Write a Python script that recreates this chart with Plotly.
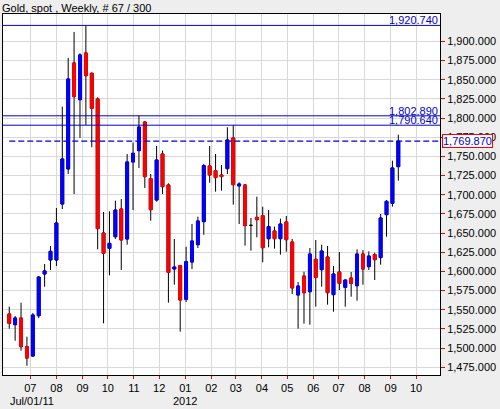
import plotly.graph_objects as go

# ---------------- data ----------------
week_dates = [
    "2011-06-06", "2011-06-13", "2011-06-20", "2011-06-27", "2011-07-04", "2011-07-11",
    "2011-07-18", "2011-07-25", "2011-08-01", "2011-08-08", "2011-08-15", "2011-08-22",
    "2011-08-29", "2011-09-05", "2011-09-12", "2011-09-19", "2011-09-26", "2011-10-03",
    "2011-10-10", "2011-10-17", "2011-10-24", "2011-10-31", "2011-11-07", "2011-11-14",
    "2011-11-21", "2011-11-28", "2011-12-05", "2011-12-12", "2011-12-19", "2011-12-26",
    "2012-01-02", "2012-01-09", "2012-01-16", "2012-01-23", "2012-01-30", "2012-02-06",
    "2012-02-13", "2012-02-20", "2012-02-27", "2012-03-05", "2012-03-12", "2012-03-19",
    "2012-03-26", "2012-04-02", "2012-04-09", "2012-04-16", "2012-04-23", "2012-04-30",
    "2012-05-07", "2012-05-14", "2012-05-21", "2012-05-28", "2012-06-04", "2012-06-11",
    "2012-06-18", "2012-06-25", "2012-07-02", "2012-07-09", "2012-07-16", "2012-07-23",
    "2012-07-30", "2012-08-06", "2012-08-13", "2012-08-20", "2012-08-27", "2012-09-03",
    "2012-09-10",
]
opens = [
    1544.5, 1530.6, 1539.3, 1501.9, 1489.7, 1542.3, 1596.7, 1614.9, 1614.9, 1687.9,
    1733.6, 1871.8, 1823.9, 1884.8, 1858.3, 1824.8, 1650.1, 1630.1, 1645.3, 1681.4,
    1642.3, 1742.7, 1757.5, 1794.8, 1721.0, 1693.1, 1753.1, 1712.7, 1603.2, 1607.5,
    1563.6, 1612.3, 1634.9, 1664.9, 1737.5, 1731.4, 1725.7, 1734.0, 1774.0, 1711.5,
    1712.7, 1660.1, 1670.5, 1672.7, 1642.7, 1652.7, 1642.7, 1664.5, 1638.4, 1569.3,
    1594.0, 1573.6, 1615.8, 1602.3, 1618.8, 1569.7, 1599.3, 1579.3, 1591.4, 1581.4,
    1622.7, 1606.2, 1621.9, 1618.0, 1674.0, 1688.8, 1736.6,
]
highs = [
    1554.1, 1541.9, 1559.3, 1515.0, 1545.8, 1594.0, 1609.7, 1633.2, 1682.7, 1814.8,
    1878.3, 1912.2, 1884.4, 1920.74, 1859.5, 1827.0, 1677.5, 1678.4, 1692.3, 1694.4,
    1753.1, 1767.9, 1802.89, 1796.1, 1727.0, 1763.5, 1757.5, 1714.9, 1642.3, 1608.5,
    1632.3, 1661.8, 1671.4, 1740.1, 1763.5, 1753.1, 1738.8, 1787.9, 1790.64, 1716.2,
    1714.0, 1669.7, 1697.5, 1684.4, 1680.1, 1658.4, 1668.8, 1672.3, 1642.3, 1586.2,
    1599.7, 1630.6, 1641.0, 1634.9, 1633.2, 1607.1, 1625.3, 1589.5, 1599.3, 1628.8,
    1627.9, 1626.2, 1624.5, 1674.9, 1693.1, 1744.4, 1778.3,
]
lows = [
    1525.4, 1509.7, 1496.7, 1477.1, 1489.0, 1539.3, 1580.1, 1601.9, 1607.1, 1681.4,
    1727.0, 1701.0, 1774.0, 1790.9, 1761.8, 1628.8, 1532.3, 1594.9, 1642.3, 1601.9,
    1634.9, 1680.1, 1734.9, 1708.8, 1666.2, 1691.0, 1701.0, 1559.3, 1582.7, 1521.5,
    1560.1, 1603.2, 1630.6, 1647.9, 1715.7, 1704.0, 1705.3, 1727.0, 1687.1, 1661.8,
    1633.6, 1627.1, 1644.5, 1611.9, 1631.4, 1629.7, 1621.9, 1625.8, 1570.6, 1525.4,
    1531.9, 1530.6, 1554.1, 1580.1, 1556.7, 1547.5, 1575.8, 1554.1, 1567.1, 1561.9,
    1582.7, 1601.9, 1588.8, 1608.8, 1645.3, 1684.4, 1718.3,
]
closes = [
    1532.3, 1539.3, 1501.9, 1487.1, 1543.2, 1592.7, 1600.6, 1626.2, 1663.1, 1746.6,
    1850.9, 1827.9, 1882.2, 1855.2, 1812.6, 1655.8, 1623.6, 1636.6, 1680.1, 1641.0,
    1742.7, 1754.0, 1788.3, 1723.6, 1680.5, 1745.3, 1710.5, 1598.8, 1605.8, 1562.8,
    1612.7, 1639.7, 1665.8, 1737.9, 1725.7, 1722.3, 1723.6, 1771.4, 1713.1, 1714.0,
    1659.7, 1660.1, 1667.5, 1631.0, 1658.4, 1642.7, 1661.8, 1641.4, 1578.4, 1581.0,
    1572.3, 1622.7, 1592.3, 1626.6, 1572.3, 1596.7, 1584.5, 1588.8, 1584.5, 1622.7,
    1603.2, 1620.1, 1615.3, 1669.7, 1691.4, 1734.9, 1769.87,
]

level_lines = [1920.74, 1802.89, 1790.64]
last_price = 1769.87

price_ticks = [1475, 1500, 1525, 1550, 1575, 1600, 1625, 1650, 1675, 1700,
               1725, 1750, 1775, 1800, 1825, 1850, 1875, 1900]
month_ticks = ["2011-07-01", "2011-08-01", "2011-09-01", "2011-10-01", "2011-11-01",
               "2011-12-01", "2012-01-01", "2012-02-01", "2012-03-01", "2012-04-01",
               "2012-05-01", "2012-06-01", "2012-07-01", "2012-08-01", "2012-09-01",
               "2012-10-01"]
month_labels = ["07", "08", "09", "10", "11", "12", "01", "02", "03", "04",
                "05", "06", "07", "08", "09", "10"]

title_text = "Gold, spot , Weekly, # 67 / 300"
x_range = ["2011-05-29 14:00", "2012-10-29 12:00"]
y_range = [1465.0, 1935.6]

FONT = "Liberation Sans, Arial, sans-serif"
BLUE = "#0000CC"

# body-only values (doji left to the black trace)
body_hi = [max(o, c) if o != c else None for o, c in zip(opens, closes)]
body_lo = [min(o, c) if o != c else None for o, c in zip(opens, closes)]
body_o = [o if o != c else None for o, c in zip(opens, closes)]
body_c = [c if o != c else None for o, c in zip(opens, closes)]

fig = go.Figure()

# black wicks (and black body underlay)
fig.add_trace(go.Candlestick(
    x=week_dates, open=opens, high=highs, low=lows, close=closes,
    increasing=dict(line=dict(color="black", width=1), fillcolor="black"),
    decreasing=dict(line=dict(color="black", width=1), fillcolor="black"),
    showlegend=False, hoverinfo="skip",
))
# coloured bodies
fig.add_trace(go.Candlestick(
    x=week_dates, open=body_o, high=body_hi, low=body_lo, close=body_c,
    increasing=dict(line=dict(color="#0000FF", width=1), fillcolor="#0000FF"),
    decreasing=dict(line=dict(color="#FF0000", width=1), fillcolor="#FF0000"),
    showlegend=False, hoverinfo="skip",
))

shapes = []
for lv in level_lines:
    shapes.append(dict(type="line", xref="paper", x0=0, x1=1, yref="y", y0=lv, y1=lv,
                       line=dict(color=BLUE, width=1), layer="above"))
shapes.append(dict(type="line", xref="x", x0=week_dates[0], x1=x_range[1], yref="y",
                   y0=last_price, y1=last_price,
                   line=dict(color=BLUE, width=1.2, dash="6px,3px"), layer="above"))

annotations = []
for lv in level_lines:
    annotations.append(dict(text=f"{lv:,.3f}", xref="paper", x=1, xanchor="right",
                            yref="y", y=lv, yanchor="bottom", showarrow=False,
                            font=dict(family=FONT, size=11, color=BLUE),
                            xshift=-1, yshift=-2, borderpad=0))
annotations.append(dict(text=f"{last_price:,.3f}", xref="paper", x=1, xanchor="left",
                        yref="y", y=last_price, yanchor="middle", showarrow=False,
                        font=dict(family=FONT, size=11, color=BLUE),
                        bgcolor="white", bordercolor="#FF0000", borderwidth=1,
                        borderpad=0, xshift=2))
annotations.append(dict(text="Jul/01/11", xref="paper", x=0, xanchor="left", xshift=5,
                        yref="paper", y=-0.072, yanchor="middle", showarrow=False,
                        font=dict(family=FONT, size=11, color="black")))
annotations.append(dict(text="2012", xref="x", x="2012-01-01", xanchor="center",
                        yref="paper", y=-0.072, yanchor="middle", showarrow=False,
                        font=dict(family=FONT, size=11, color="black")))

fig.update_layout(
    width=500, height=409,
    margin=dict(l=3, r=60, t=14, b=34, pad=0),
    paper_bgcolor="#EEEEEE", plot_bgcolor="white",
    font=dict(family=FONT, size=11, color="black"),
    title=dict(text=title_text, x=0.004, xanchor="left", y=1 - 8 / 409, yanchor="middle",
               font=dict(family=FONT, size=11, color="black")),
    showlegend=False, hovermode=False,
    shapes=shapes, annotations=annotations,
    xaxis=dict(
        type="date", range=x_range, rangeslider=dict(visible=False),
        tickvals=month_ticks, ticktext=month_labels,
        ticks="outside", ticklen=3, tickcolor="#FF0000", tickwidth=1,
        showgrid=True, gridcolor="#D9D9D9", gridwidth=1,
        showline=True, linecolor="black", linewidth=1, mirror=True,
        zeroline=False, tickfont=dict(family=FONT, size=11, color="black"),
    ),
    yaxis=dict(
        side="right", range=y_range,
        tickvals=price_ticks, ticktext=[f"{v:,.3f}" for v in price_ticks],
        ticks="outside", ticklen=4, tickcolor="#FF0000", tickwidth=1,
        showgrid=True, gridcolor="#D9D9D9", gridwidth=1,
        showline=True, linecolor="black", linewidth=1, mirror=True,
        zeroline=False, tickfont=dict(family=FONT, size=11, color="black"),
    ),
)

page_fix = ("document.body.style.margin='0';document.body.style.padding='0';"
            "document.body.style.overflow='hidden';")
fig.write_html("out.html", post_script=page_fix, config={"displayModeBar": False})
